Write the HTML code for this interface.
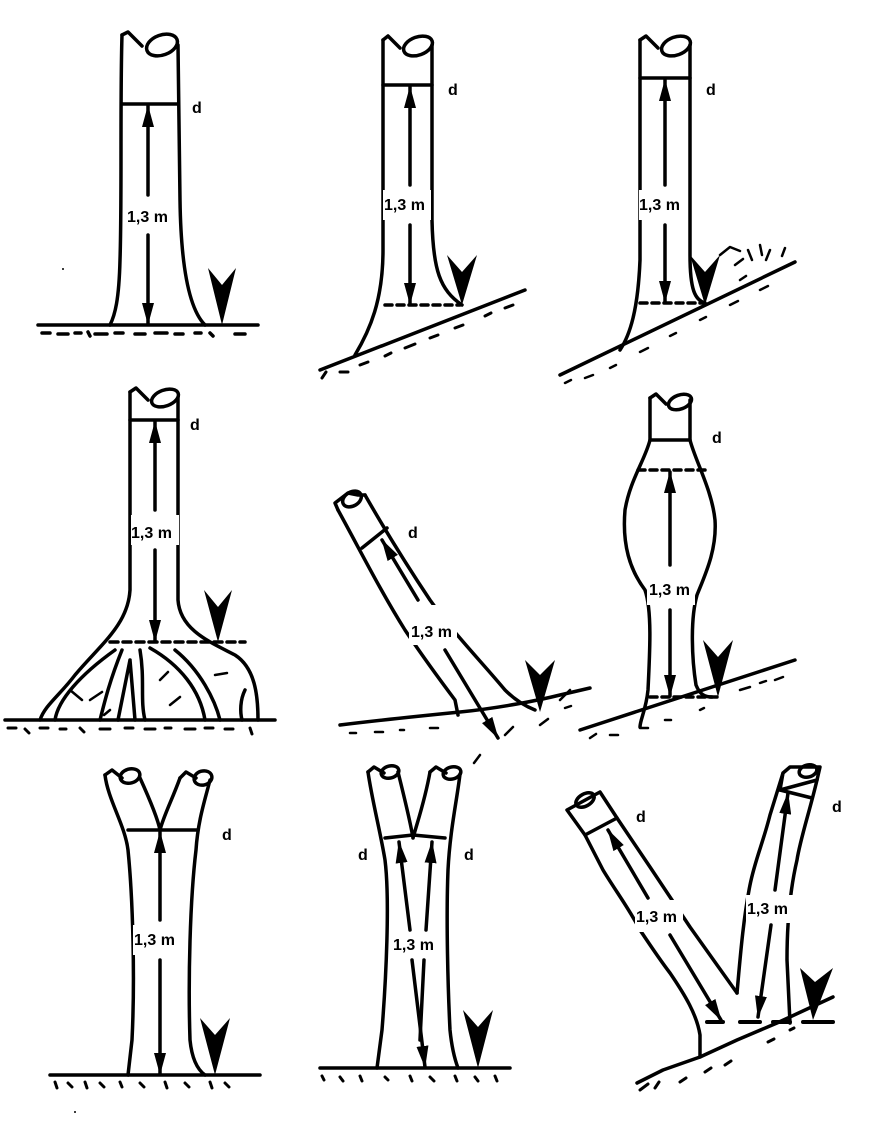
<!DOCTYPE html>
<html><head><meta charset="utf-8"><style>
html,body{margin:0;padding:0;background:#fff}
svg{display:block}
text{font-family:"Liberation Sans",sans-serif;font-weight:bold;font-size:16px;fill:#000}
</style></head><body>
<svg width="876" height="1126" viewBox="0 0 876 1126" xmlns="http://www.w3.org/2000/svg">
<defs>
<marker id="ah" viewBox="0 0 22 12" refX="21" refY="6" markerWidth="22" markerHeight="12" markerUnits="userSpaceOnUse" orient="auto-start-reverse">
<path d="M0,0 L22,6 L0,12 Z" fill="#000"/></marker>
</defs>
<g fill="none" stroke="#000" stroke-width="3.5" stroke-linecap="round" stroke-linejoin="round">

<!-- Panel 1 -->
<path d="M122,35 C120,100 122,200 120,260 C119,300 115,315 110,325"/>
<path d="M178,45 L180,200 C181,270 190,310 205,325"/>
<path d="M122,35 L128,32 L142,46"/><ellipse cx="162" cy="45" rx="16" ry="10" transform="rotate(-20 162 45)"/>
<line x1="122" y1="104" x2="178" y2="104"/>
<line x1="148" y1="106" x2="148" y2="195" marker-start="url(#ah)"/>
<line x1="148" y1="235" x2="148" y2="324" marker-end="url(#ah)"/>
<line x1="38" y1="325" x2="258" y2="325"/>
<path d="M42,333 h8 M58,334 h10 M75,333 h6 M95,334 h12 M115,333 h8 M135,334 h10 M155,333 h12 M175,334 h8 M195,333 h6 M235,334 h10 M210,333 l3,3 M88,332 l2,4" stroke-width="3.5"/>

<!-- Panel 2 -->
<path d="M383,40 L383,250 C383,300 370,330 355,355"/>
<path d="M432,45 L432,220 C433,270 440,290 462,305"/>
<path d="M383,40 L388,36 L400,48"/><ellipse cx="418" cy="46" rx="15" ry="9" transform="rotate(-20 418 46)"/>
<line x1="383" y1="85" x2="432" y2="85"/>
<line x1="410" y1="87" x2="410" y2="185" marker-start="url(#ah)"/>
<line x1="410" y1="225" x2="410" y2="304" marker-end="url(#ah)"/>
<line x1="385" y1="305" x2="460" y2="305" stroke-dasharray="7,5"/>
<line x1="320" y1="370" x2="525" y2="290"/>
<path d="M322,378 l4,-6 M340,372 h8 M360,365 l8,-3 M385,356 l6,-3 M405,348 l10,-4 M430,338 l8,-3 M455,328 l8,-3 M485,316 l6,-3 M505,308 l8,-3" stroke-width="3"/>

<!-- Panel 3 -->
<path d="M640,40 L640,260 C638,310 630,335 620,350"/>
<path d="M690,45 L690,255 C690,290 695,300 705,303"/>
<path d="M640,40 L646,36 L658,48"/><ellipse cx="676" cy="46" rx="15" ry="9" transform="rotate(-20 676 46)"/>
<line x1="640" y1="78" x2="690" y2="78"/>
<line x1="665" y1="80" x2="665" y2="185" marker-start="url(#ah)"/>
<line x1="665" y1="225" x2="665" y2="302" marker-end="url(#ah)"/>
<line x1="640" y1="303" x2="705" y2="303" stroke-dasharray="7,5"/>
<line x1="560" y1="375" x2="795" y2="262"/>
<path d="M565,383 l6,-3 M585,378 l8,-3 M610,368 l6,-3 M640,352 l8,-4 M670,336 l6,-3 M700,320 l6,-3 M730,305 l8,-4 M760,290 l8,-4 M720,255 l10,-8 l10,4 M735,265 l8,-6 M748,250 l4,10 M760,245 l2,10 M770,250 l-4,10 M785,248 l-3,8 M740,280 l6,-4" stroke-width="2.5"/>

<!-- Panel 4 -->
<path d="M130,392 L130,590 C128,625 100,645 75,675 C60,695 45,705 40,720"/>
<path d="M178,398 L178,600 C180,630 210,642 235,655 C255,668 258,695 258,720"/>
<path d="M130,392 L136,388 L148,400"/><ellipse cx="165" cy="398" rx="14" ry="8" transform="rotate(-20 165 398)"/>
<line x1="130" y1="420" x2="178" y2="420"/>
<line x1="155" y1="422" x2="155" y2="510" marker-start="url(#ah)"/>
<line x1="155" y1="550" x2="155" y2="641" marker-end="url(#ah)"/>
<line x1="110" y1="642" x2="245" y2="642" stroke-dasharray="8,5"/>
<path d="M55,720 C58,700 80,675 115,650"/>
<path d="M122,650 C110,680 105,700 100,720"/>
<path d="M130,660 L118,720 M130,660 L135,720"/>
<path d="M140,650 C145,680 140,700 145,720"/>
<path d="M150,648 C180,665 200,690 205,720"/>
<path d="M175,650 C200,670 215,700 220,720"/>
<path d="M245,690 C240,700 240,712 242,720"/>
<path d="M70,690 l12,10 M90,700 l12,-8 M160,680 l8,-8 M170,705 l10,-8 M215,675 l12,-2 M110,710 l-6,5" stroke-width="2.5"/>
<line x1="5" y1="720" x2="275" y2="720"/>
<path d="M8,728 h8 M25,729 l4,4 M40,728 h8 M60,729 h6 M80,728 l4,4 M100,729 h10 M125,728 h8 M145,729 h10 M165,728 h6 M185,729 h10 M205,728 h8 M225,729 h8 M250,728 l2,6" stroke-width="3"/>

<!-- Panel 5 -->
<path d="M338,510 C360,550 380,590 405,630 C425,660 440,680 455,700 L458,715"/>
<path d="M365,495 C385,530 410,570 430,600 C455,635 480,660 505,690 C515,700 525,706 535,710"/>
<path d="M338,510 L335,503 L348,493 L358,495 L365,495"/><ellipse cx="352" cy="499" rx="10" ry="7" transform="rotate(-30 352 499)"/>
<line x1="362" y1="548" x2="387" y2="528"/>
<line x1="382" y1="540" x2="418" y2="600" marker-start="url(#ah)"/>
<line x1="445" y1="650" x2="498" y2="738" marker-end="url(#ah)"/>
<path d="M340,725 C380,720 420,716 460,712 C500,708 540,700 560,695 L590,688"/>
<path d="M480,755 l-6,8 M505,735 l8,-8 M540,725 l8,-6 M560,700 l10,-10 M565,708 l6,-2 M350,733 h6 M375,732 h8 M400,730 h4 M430,728 h8" stroke-width="2.5"/>

<!-- Panel 6 -->
<path d="M650,398 L650,440 C645,460 630,480 625,510 C622,545 630,570 645,590 C652,610 650,650 648,690 C646,710 640,720 640,727"/>
<path d="M690,400 L690,440 C695,460 712,490 715,520 C717,550 705,575 697,595 C690,620 692,660 696,685 C700,695 705,697 712,697"/>
<path d="M650,398 L656,394 L666,404"/><ellipse cx="680" cy="402" rx="12" ry="7" transform="rotate(-20 680 402)"/>
<line x1="650" y1="440" x2="690" y2="440"/>
<line x1="638" y1="470" x2="706" y2="470" stroke-dasharray="7,5"/>
<line x1="670" y1="472" x2="670" y2="565" marker-start="url(#ah)"/>
<line x1="670" y1="610" x2="670" y2="696" marker-end="url(#ah)"/>
<line x1="650" y1="697" x2="720" y2="697" stroke-dasharray="7,5"/>
<line x1="580" y1="730" x2="795" y2="660"/>
<path d="M590,738 l6,-4 M610,735 h8 M640,728 h8 M665,720 h6 M700,710 l4,-2 M740,690 l10,-3 M760,683 l6,-2 M775,680 l8,-3" stroke-width="2.5"/>

<!-- Panel 7 -->
<path d="M105,775 C108,800 125,825 128,850 C133,900 135,980 132,1040 L128,1075"/>
<path d="M210,780 C205,800 198,820 196,850 C190,900 188,980 190,1040 C192,1060 198,1070 205,1075"/>
<path d="M140,778 C150,800 158,820 160,830 M180,778 C172,800 164,815 160,830"/>
<path d="M105,775 L112,770 L122,778"/><ellipse cx="130" cy="776" rx="10" ry="7" transform="rotate(-15 130 776)"/>
<path d="M180,778 L186,772 L196,778"/><ellipse cx="203" cy="778" rx="9" ry="7" transform="rotate(-15 203 778)"/>
<line x1="128" y1="830" x2="197" y2="830"/>
<line x1="160" y1="832" x2="160" y2="920" marker-start="url(#ah)"/>
<line x1="160" y1="960" x2="160" y2="1074" marker-end="url(#ah)"/>
<line x1="50" y1="1075" x2="260" y2="1075"/>
<path d="M55,1082 l2,6 M68,1083 l4,4 M85,1082 l2,6 M100,1083 l4,4 M120,1082 l2,5 M140,1083 l4,4 M165,1082 l2,6 M185,1083 l4,4 M210,1082 l2,6 M225,1083 l4,4" stroke-width="3"/>

<!-- Panel 8 -->
<path d="M368,772 C372,800 380,830 385,860 C390,900 386,980 382,1030 L377,1068"/>
<path d="M460,774 C457,800 450,830 448,870 C446,920 448,990 450,1030 C452,1050 455,1060 458,1068"/>
<path d="M398,772 C405,800 410,820 413,838 M430,772 C425,800 418,820 413,838"/>
<path d="M368,772 L374,767 L384,773"/><ellipse cx="390" cy="772" rx="9" ry="6" transform="rotate(-15 390 772)"/>
<path d="M430,772 L436,767 L446,773"/><ellipse cx="452" cy="773" rx="9" ry="6" transform="rotate(-15 452 773)"/>
<path d="M385,838 L413,835 L445,838"/>
<line x1="399" y1="842" x2="410" y2="930" marker-start="url(#ah)"/>
<line x1="432" y1="842" x2="426" y2="930" marker-start="url(#ah)"/>
<line x1="412" y1="960" x2="425" y2="1067" marker-end="url(#ah)"/>
<line x1="424" y1="960" x2="420" y2="1040"/>
<line x1="320" y1="1068" x2="510" y2="1068"/>
<path d="M322,1076 l2,4 M340,1077 l3,4 M360,1076 l2,5 M385,1077 l3,3 M410,1076 l2,5 M430,1077 l4,4 M455,1076 l2,5 M475,1077 l3,4 M495,1076 l2,5" stroke-width="3"/>

<!-- Panel 9 -->
<path d="M585,835 L603,870 C615,890 630,910 640,930 C650,945 660,960 670,973 C685,995 697,1015 700,1035 L700,1057"/>
<path d="M617,818 L650,867 L690,927 L737,993"/>
<path d="M737,993 C740,960 743,920 750,885 C755,860 763,843 770,815 L783,773"/>
<path d="M817,780 C810,810 800,840 797,860 C790,890 787,927 787,960 L790,1023"/>
<path d="M585,835 L567,810 L600,792 L617,818 Z"/>
<ellipse cx="585" cy="800" rx="10" ry="6" transform="rotate(-30 585 800)"/>
<path d="M780,790 L783,773 L790,767 L820,767 L817,780 Z"/>
<ellipse cx="808" cy="771" rx="9" ry="6" transform="rotate(-15 808 771)"/>
<line x1="780" y1="790" x2="812" y2="798"/>
<line x1="608" y1="830" x2="648" y2="898" marker-start="url(#ah)"/>
<line x1="670" y1="935" x2="721" y2="1020" marker-end="url(#ah)"/>
<line x1="788" y1="793" x2="775" y2="890" marker-start="url(#ah)"/>
<line x1="771" y1="925" x2="758" y2="1017" marker-end="url(#ah)"/>
<path d="M707,1022 h16 M740,1022 h20 M773,1022 h17 M803,1022 h30" stroke-width="4"/>
<path d="M637,1083 L663,1070 L700,1057 L737,1040 L777,1023 L833,997"/>
<path d="M640,1090 l8,-6 M655,1088 l4,-6 M680,1082 l6,-4 M705,1072 l6,-4 M725,1065 l6,-4 M768,1042 l6,-3 M790,1030 l4,-2" stroke-width="3"/>
</g>

<!-- Markers (filled chevrons) -->
<g fill="#000">
<path d="M208,268 L222,285 L236,268 L222,325 Z"/>
<path d="M447,255 L462,272 L477,255 L462,305 Z"/>
<path d="M690,255 L705,272 L720,255 L705,305 Z"/>
<path d="M204,590 L218,607 L232,590 L218,642 Z"/>
<path d="M525,660 L540,675 L555,660 L540,712 Z"/>
<path d="M703,640 L718,657 L733,640 L718,697 Z"/>
<path d="M200,1018 L215,1035 L230,1018 L215,1075 Z"/>
<path d="M463,1010 L478,1027 L493,1010 L478,1068 Z"/>
<path d="M800,968 L815,982 L833,968 L813,1020 Z"/>
</g>

<!-- Labels -->
<g>
<rect x="127" y="200" width="46" height="30" fill="#fff"/><text x="127" y="222">1,3 m</text>
<rect x="383" y="190" width="48" height="30" fill="#fff"/><text x="384" y="210">1,3 m</text>
<rect x="639" y="190" width="48" height="30" fill="#fff"/><text x="639" y="210">1,3 m</text>
<rect x="131" y="515" width="48" height="30" fill="#fff"/><text x="131" y="538">1,3 m</text>
<rect x="409" y="605" width="48" height="40" fill="#fff"/><text x="411" y="637">1,3 m</text>
<rect x="647" y="570" width="48" height="35" fill="#fff"/><text x="649" y="595">1,3 m</text>
<rect x="133" y="925" width="50" height="30" fill="#fff"/><text x="134" y="945">1,3 m</text>
<rect x="392" y="932" width="48" height="26" fill="#fff"/><text x="393" y="950">1,3 m</text>
<rect x="635" y="900" width="48" height="32" fill="#fff"/><text x="636" y="922">1,3 m</text>
<rect x="746" y="895" width="48" height="28" fill="#fff"/><text x="747" y="914">1,3 m</text>
<text x="192" y="113">d</text>
<text x="448" y="95">d</text>
<text x="706" y="95">d</text>
<text x="190" y="430">d</text>
<text x="408" y="538">d</text>
<text x="712" y="443">d</text>
<text x="222" y="840">d</text>
<text x="358" y="860">d</text>
<text x="464" y="860">d</text>
<text x="636" y="822">d</text>
<text x="832" y="812">d</text>
</g>
<circle cx="63" cy="269" r="1" fill="#000"/>
<circle cx="75" cy="1112" r="1" fill="#000"/>
</svg>
</body></html>
